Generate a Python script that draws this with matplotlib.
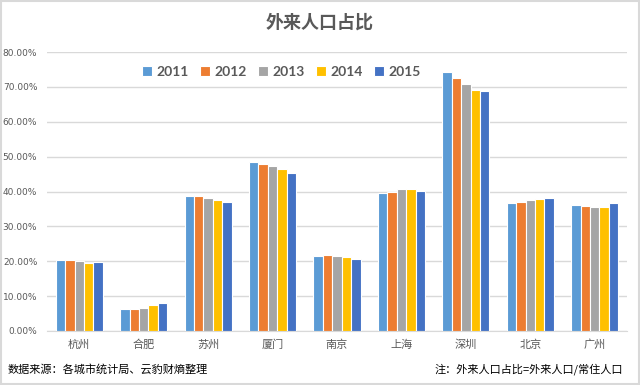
import matplotlib
matplotlib.use("Agg")
import matplotlib.pyplot as plt
import numpy as np
from matplotlib.patches import Rectangle

plt.rcParams['font.family'] = ['Noto Sans CJK SC', 'DejaVu Sans']

cities = ['杭州', '合肥', '苏州', '厦门', '南京', '上海', '深圳', '北京', '广州']
years = ['2011', '2012', '2013', '2014', '2015']
v2011 = [20.4, 6.2, 38.8, 48.5, 21.6, 39.5, 74.2, 36.6, 36.1]
v2012 = [20.4, 6.2, 38.6, 48.0, 21.7, 39.9, 72.6, 37.1, 35.9]
v2013 = [20.1, 6.5, 38.0, 47.3, 21.6, 40.7, 70.7, 37.5, 35.6]
v2014 = [19.6, 7.5, 37.5, 46.5, 21.1, 40.7, 69.2, 37.8, 35.6]
v2015 = [19.9, 7.9, 37.1, 45.4, 20.6, 40.2, 68.7, 38.0, 36.6]
series = [v2011, v2012, v2013, v2014, v2015]
colors = ['#5B9BD5', '#ED7D31', '#A5A5A5', '#FFC000', '#4472C4']

fig = plt.figure(figsize=(6.4, 3.85), dpi=100)
ax = fig.add_axes([47/640, 1 - 331/385, (627-47)/640, (331-52)/385])

x = np.arange(len(cities))
w = 0.146
for i, (vals, c, yr) in enumerate(zip(series, colors, years)):
    ax.bar(x + (i - 2) * w, vals, width=w, color=c, edgecolor='white',
           linewidth=0.8, label=yr, zorder=3)

ax.set_xlim(-0.5, len(cities) - 0.5)
ax.set_ylim(0, 80)
ax.set_yticks(np.arange(0, 81, 10))
ax.set_yticklabels([f'{t:.2f}%' for t in np.arange(0, 81, 10)], fontsize=6.5,
                   color='#595959', family=['DejaVu Sans'])
ax.set_xticks(x)
ax.set_xticklabels(cities, fontsize=8, color='#595959')
ax.tick_params(axis='x', length=0, pad=6)
ax.tick_params(axis='y', length=0, pad=7)
ax.grid(axis='y', color='#D9D9D9', linewidth=1, zorder=0)
for s in ['top', 'right', 'left']:
    ax.spines[s].set_visible(False)
ax.spines['bottom'].set_color('#D9D9D9')

leg = fig.legend(*ax.get_legend_handles_labels(), loc='center',
                 bbox_to_anchor=(281/640, 1 - 72/385), ncol=5, frameon=False,
                 handlelength=0.75, handleheight=0.75, handletextpad=0.3, columnspacing=0.8,
                 prop={'family': 'Lato', 'size': 10, 'weight': 'bold'})
for t in leg.get_texts():
    t.set_color('#595959')

fig.text(320/640, 1 - 22/385, '外来人口占比', ha='center', va='center', fontsize=13,
         color='#595959', fontweight='bold')
fig.text(8/640, 1 - 369/385, '数据来源：各城市统计局、云豹财熵整理', ha='left', va='center',
         fontsize=8, color='black')
fig.text(623/640, 1 - 369/385, '注：外来人口占比=外来人口/常住人口', ha='right', va='center',
         fontsize=8, color='black')

fig.patches.append(Rectangle((0.001, 0.002), 0.997, 0.996, transform=fig.transFigure,
                             fill=False, edgecolor='#D9D9D9', linewidth=1.5))

fig.savefig('out.png', dpi=100)
